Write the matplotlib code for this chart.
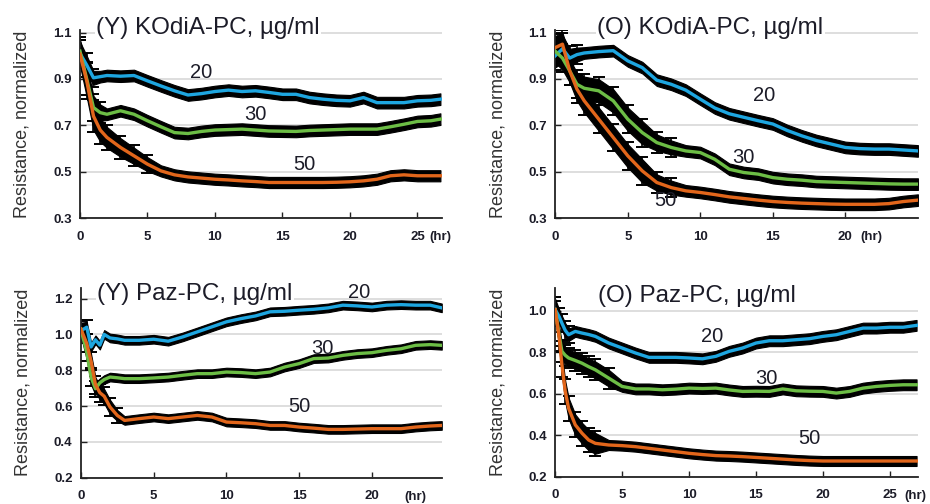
import numpy as np
import matplotlib.pyplot as plt
from matplotlib import transforms

plt.rcParams['font.family'] = ['Liberation Sans', 'DejaVu Sans']

BLUE = "#1ea6e0"
GREEN = "#6cbd45"
ORANGE = "#e2661b"
TXT = "#1c1c28"

# (Y) KOdiA-PC
t_yk = [0, 0.5, 1, 1.5, 2, 3, 4, 5, 6, 7, 8, 9, 10, 11, 12, 13, 14, 15, 16, 17,
        18, 19, 20, 21, 22, 23, 24, 25, 26, 26.7]
yk_20 = [1.01, 0.96, 0.905, 0.91, 0.915, 0.912, 0.915, 0.892, 0.87, 0.849, 0.831, 0.837,
         0.846, 0.852, 0.846, 0.849, 0.842, 0.834, 0.834, 0.82, 0.813, 0.808, 0.806, 0.82,
         0.798, 0.798, 0.798, 0.806, 0.808, 0.813]
yk_30 = [1.02, 0.90, 0.777, 0.755, 0.748, 0.763, 0.748, 0.72, 0.694, 0.669, 0.665, 0.674,
         0.68, 0.682, 0.684, 0.68, 0.676, 0.675, 0.674, 0.678, 0.68, 0.682, 0.684, 0.684,
         0.684, 0.694, 0.705, 0.717, 0.72, 0.727]
yk_50 = [1.007, 0.892, 0.74, 0.68, 0.648, 0.605, 0.569, 0.533, 0.504, 0.487, 0.478, 0.473,
         0.468, 0.465, 0.461, 0.458, 0.454, 0.454, 0.454, 0.454, 0.454, 0.455, 0.457, 0.461,
         0.468, 0.483, 0.487, 0.483, 0.483, 0.483]
yk_20_err = [0.05, 0.04, 0.03] + [0.025] * 27
yk_30_err = [0.05, 0.06, 0.05, 0.035] + [0.025] * 26
yk_50_err = [0.05, 0.07, 0.06, 0.05, 0.045, 0.04, 0.035, 0.03] + [0.024] * 22

# (O) KOdiA-PC
t_ok = [0, 0.5, 1, 1.5, 2, 3, 4, 5, 6, 7, 8, 9, 10, 11, 12, 13, 14, 15, 16, 17,
        18, 19, 20, 21, 22, 23, 24, 25]
ok_20 = [1.0, 1.03, 0.99, 1.005, 1.012, 1.018, 1.022, 0.978, 0.949, 0.895, 0.877, 0.852,
         0.813, 0.775, 0.75, 0.735, 0.72, 0.706, 0.678, 0.655, 0.635, 0.62, 0.605, 0.6,
         0.598, 0.598, 0.594, 0.59]
ok_30 = [1.02, 0.99, 0.935, 0.877, 0.86, 0.849, 0.806, 0.727, 0.669, 0.626, 0.605, 0.59,
         0.583, 0.554, 0.511, 0.497, 0.49, 0.475, 0.468, 0.464, 0.458, 0.456, 0.454, 0.452,
         0.45, 0.448, 0.447, 0.447]
ok_50 = [1.035, 1.05, 0.935, 0.856, 0.806, 0.727, 0.648, 0.569, 0.504, 0.454, 0.432, 0.418,
         0.411, 0.402, 0.392, 0.385, 0.378, 0.372, 0.368, 0.365, 0.363, 0.361, 0.36, 0.36,
         0.36, 0.363, 0.372, 0.378]
ok_20_err = [0.05, 0.06, 0.04, 0.03] + [0.025] * 24
ok_30_err = [0.05] * 9 + [0.035, 0.03] + [0.025] * 17
ok_50_err = [0.05] * 9 + [0.035, 0.03] + [0.025] * 17

# (Y) Paz-PC
t_yp = [0, 0.4, 0.7, 1.0, 1.3, 1.6, 2, 2.5, 3, 4, 5, 6, 7, 8, 9, 10, 11, 12, 13, 14,
        15, 16, 17, 18, 19, 20, 21, 22, 23, 24, 24.8]
yp_20 = [1.02, 1.04, 0.93, 0.97, 0.94, 1.0, 0.98, 0.975, 0.967, 0.967, 0.973, 0.962,
         0.986, 1.014, 1.042, 1.07, 1.088, 1.103, 1.126, 1.129, 1.135, 1.14, 1.148, 1.163,
         1.159, 1.153, 1.163, 1.166, 1.163, 1.163, 1.148]
yp_30 = [1.03, 0.9, 0.76, 0.697, 0.73, 0.748, 0.762, 0.758, 0.753, 0.753, 0.757, 0.762,
         0.772, 0.781, 0.781, 0.79, 0.787, 0.781, 0.79, 0.818, 0.837, 0.865, 0.868, 0.883,
         0.893, 0.898, 0.911, 0.92, 0.939, 0.943, 0.939]
yp_50 = [1.03, 0.95, 0.85, 0.72, 0.675, 0.655, 0.595, 0.548, 0.52, 0.53, 0.539, 0.53,
         0.539, 0.548, 0.539, 0.511, 0.507, 0.502, 0.492, 0.492, 0.483, 0.477, 0.47, 0.47,
         0.472, 0.474, 0.474, 0.474, 0.483, 0.489, 0.492]
yp_20_err = [0.045, 0.03] + [0.024] * 29
yp_30_err = [0.04, 0.04, 0.04, 0.035] + [0.024] * 27
yp_50_err = [0.04] * 7 + [0.03] + [0.024] * 23

# (O) Paz-PC
t_op = [0, 0.3, 0.5, 0.75, 1, 1.5, 2, 2.5, 3, 4, 5, 6, 7, 8, 9, 10, 11, 12, 13, 14,
        15, 16, 17, 18, 19, 20, 21, 22, 23, 24, 25, 26, 27]
op_20 = [1.005, 0.97, 0.94, 0.905, 0.884, 0.9, 0.892, 0.885, 0.876, 0.844, 0.82, 0.796,
         0.775, 0.775, 0.775, 0.772, 0.768, 0.78, 0.804, 0.82, 0.844, 0.855, 0.855, 0.86,
         0.865, 0.876, 0.884, 0.9, 0.916, 0.916, 0.92, 0.92, 0.929]
op_30 = [1.005, 0.88, 0.804, 0.785, 0.772, 0.76, 0.747, 0.73, 0.715, 0.675, 0.635, 0.623,
         0.623, 0.619, 0.622, 0.627, 0.625, 0.627, 0.618, 0.611, 0.612, 0.611, 0.623, 0.614,
         0.612, 0.611, 0.603, 0.611, 0.627, 0.635, 0.64, 0.643, 0.643]
op_50 = [1.005, 0.868, 0.739, 0.611, 0.53, 0.45, 0.41, 0.377, 0.361, 0.353, 0.35, 0.345,
         0.337, 0.329, 0.321, 0.313, 0.307, 0.302, 0.3, 0.297, 0.293, 0.289, 0.285, 0.281,
         0.278, 0.276, 0.276, 0.276, 0.276, 0.276, 0.276, 0.276, 0.276]
op_20_err = [0.05, 0.035, 0.035, 0.035, 0.03] + [0.026] * 28
op_30_err = [0.05] + [0.04] * 9 + [0.026] * 23
op_50_err = [0.03] + [0.05] * 8 + [0.024] * 24

panels = [
    dict(title="(Y) KOdiA-PC, µg/ml", t=t_yk,
         series=[(yk_20, yk_20_err, BLUE), (yk_30, yk_30_err, GREEN), (yk_50, yk_50_err, ORANGE)],
         labels=[("20", 9.0, 0.93), ("30", 13.0, 0.745), ("50", 16.6, 0.53)],
         rect=[0.086, 0.567, 0.389, 0.373], xlim=(0, 26.8), ylim=(0.3, 1.11),
         yticks=[0.3, 0.5, 0.7, 0.9, 1.1], ytl=["0.3", "0.5", "0.7", "0.9", "1.1"],
         xticks=[0, 5, 10, 15, 20, 25], hr_x=25.9, title_xy=(1.2, 1.12), ylab_x=-0.138),
    dict(title="(O) KOdiA-PC, µg/ml", t=t_ok,
         series=[(ok_20, ok_20_err, BLUE), (ok_30, ok_30_err, GREEN), (ok_50, ok_50_err, ORANGE)],
         labels=[("20", 14.4, 0.83), ("30", 13.0, 0.56), ("50", 7.6, 0.375)],
         rect=[0.597, 0.567, 0.390, 0.373], xlim=(0, 25.0), ylim=(0.3, 1.11),
         yticks=[0.3, 0.5, 0.7, 0.9, 1.1], ytl=["0.3", "0.5", "0.7", "0.9", "1.1"],
         xticks=[0, 5, 10, 15, 20], hr_x=21.0, title_xy=(2.9, 1.12), ylab_x=-0.133),
    dict(title="(Y) Paz-PC, µg/ml", t=t_yp,
         series=[(yp_20, yp_20_err, BLUE), (yp_30, yp_30_err, GREEN), (yp_50, yp_50_err, ORANGE)],
         labels=[("20", 19.1, 1.235), ("30", 16.6, 0.92), ("50", 15.0, 0.595)],
         rect=[0.087, 0.052, 0.388, 0.377], xlim=(0, 24.8), ylim=(0.2, 1.26),
         yticks=[0.2, 0.4, 0.6, 0.8, 1.0, 1.2], ytl=["0.2", "0.4", "0.6", "0.8", "1.0", "1.2"],
         xticks=[0, 5, 10, 15, 20], hr_x=22.2, title_xy=(1.14, 1.228), ylab_x=-0.138),
    dict(title="(O) Paz-PC, µg/ml", t=t_op,
         series=[(op_20, op_20_err, BLUE), (op_30, op_30_err, GREEN), (op_50, op_50_err, ORANGE)],
         labels=[("20", 11.7, 0.875), ("30", 15.8, 0.675), ("50", 19.0, 0.385)],
         rect=[0.597, 0.054, 0.390, 0.375], xlim=(0, 27.1), ylim=(0.2, 1.11),
         yticks=[0.2, 0.4, 0.6, 0.8, 1.0], ytl=["0.2", "0.4", "0.6", "0.8", "1.0"],
         xticks=[0, 5, 10, 15, 20, 25], hr_x=26.1, title_xy=(3.2, 1.07), ylab_x=-0.133),
]

fig = plt.figure(figsize=(9.3, 5.04), dpi=100)

for p in panels:
    ax = fig.add_axes(p["rect"])
    t = np.array(p["t"])
    for vals, err, col in p["series"]:
        v = np.array(vals)
        e = np.array(err)
        # SEM band, with capped bars where the spread is large
        ax.fill_between(t, v - e, v + e, color="black", lw=0.8, edgecolor="black", zorder=2)
        big = e > 0.028
        ax.errorbar(t[big], v[big], yerr=e[big] + 0.01, fmt="none", ecolor="black",
                    elinewidth=1.2, capsize=4, capthick=1.4, zorder=2)
        ax.plot(t, v, color=col, lw=2.4, zorder=3, solid_joinstyle="round")
    for txt, x, y in p["labels"]:
        ax.text(x, y, txt, fontsize=14.5, color=TXT, ha="center", va="center", zorder=4)
    ax.text(p["title_xy"][0], p["title_xy"][1], p["title"], fontsize=17.5, color=TXT,
            ha="left", va="center", zorder=5, clip_on=False,
            bbox=dict(facecolor="white", edgecolor="none", pad=1))

    ax.set_xlim(*p["xlim"])
    ax.set_ylim(*p["ylim"])
    ax.set_yticks(p["yticks"])
    ax.set_yticklabels(p["ytl"])
    ax.set_xticks(p["xticks"])
    ax.yaxis.grid(True, color="#d8d8d8", lw=1.2)
    ax.set_axisbelow(True)
    for s in ("top", "right"):
        ax.spines[s].set_visible(False)
    for s in ("left", "bottom"):
        ax.spines[s].set_linewidth(1.3)
        ax.spines[s].set_color("#222222")
    ax.tick_params(axis="both", direction="in", length=4, width=1, colors="#222222",
                   labelsize=9.5, labelcolor=TXT)
    ax.tick_params(axis="y", pad=6)
    ax.tick_params(axis="x", pad=9)
    for lab in ax.get_xticklabels() + ax.get_yticklabels():
        lab.set_fontweight("bold")
    trans = transforms.blended_transform_factory(ax.transData, ax.transAxes)
    ax.text(p["hr_x"], -0.1, "(hr)", transform=trans, fontsize=9.5, fontweight="bold",
            color=TXT, ha="left", va="center", clip_on=False)
    ax.set_ylabel("Resistance, normalized", fontsize=13, color="#333333")
    ax.yaxis.set_label_coords(p["ylab_x"], 0.5)

fig.savefig("out.png", dpi=100)
